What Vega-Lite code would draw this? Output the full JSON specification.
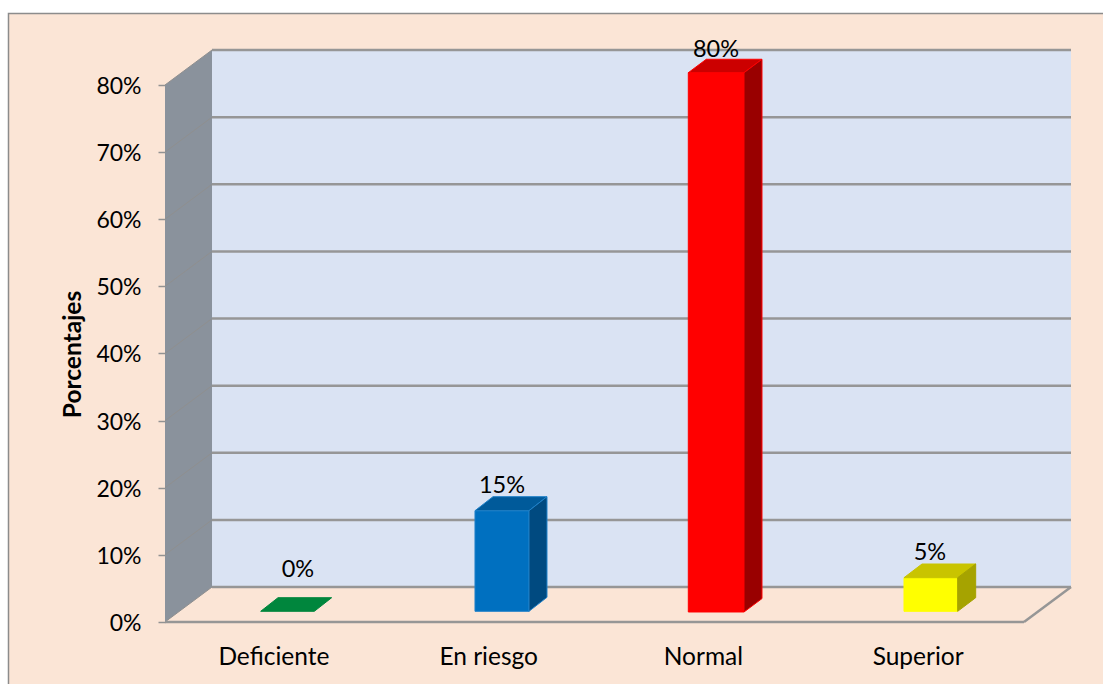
{
"$schema":"https://vega.github.io/schema/vega-lite/v6.json",
"width":906,"height":572,"autosize":"none",
"padding":{"left":165,"top":50,"right":32,"bottom":62},
"background":"#ffffff",
"view":{"stroke":null},
"config":{"font":"Lato"},
"resolve":{"scale":{"fill":"independent","stroke":"independent"}},
"datasets":{
"polys":[
{"part":"fondo","i":0,"x":-0.7288,"y":-9.3},{"part":"fondo","i":1,"x":-0.7288,"y":90.65},{"part":"fondo","i":2,"x":4.4,"y":90.65},{"part":"fondo","i":3,"x":4.4,"y":-9.3},
{"part":"pared","i":0,"x":0.2189,"y":5.21},{"part":"pared","i":1,"x":4.2189,"y":5.21},{"part":"pared","i":2,"x":4.2189,"y":85.21},{"part":"pared","i":3,"x":0.2189,"y":85.21},
{"part":"lateral","i":0,"x":0,"y":0},{"part":"lateral","i":1,"x":0.2189,"y":5.21},{"part":"lateral","i":2,"x":0.2189,"y":85.21},{"part":"lateral","i":3,"x":0,"y":80}
],
"bars":[
{"cat":"Deficiente","face":"g-top","i":0,"x":0.4456,"y":1.594},{"cat":"Deficiente","face":"g-top","i":1,"x":0.6953,"y":1.594},{"cat":"Deficiente","face":"g-top","i":2,"x":0.776,"y":3.62},{"cat":"Deficiente","face":"g-top","i":3,"x":0.5262,"y":3.62},{"cat":"Deficiente","face":"g-top","i":4,"x":0.4456,"y":1.594},
{"cat":"En riesgo","face":"b-front","i":0,"x":1.4435,"y":1.594},{"cat":"En riesgo","face":"b-front","i":1,"x":1.695,"y":1.594},{"cat":"En riesgo","face":"b-front","i":2,"x":1.695,"y":16.58},{"cat":"En riesgo","face":"b-front","i":3,"x":1.4435,"y":16.58},{"cat":"En riesgo","face":"b-front","i":4,"x":1.4435,"y":1.594},
{"cat":"En riesgo","face":"b-top","i":0,"x":1.4435,"y":16.58},{"cat":"En riesgo","face":"b-top","i":1,"x":1.695,"y":16.58},{"cat":"En riesgo","face":"b-top","i":2,"x":1.7788,"y":18.67},{"cat":"En riesgo","face":"b-top","i":3,"x":1.5273,"y":18.67},{"cat":"En riesgo","face":"b-top","i":4,"x":1.4435,"y":16.58},
{"cat":"En riesgo","face":"b-side","i":0,"x":1.695,"y":1.594},{"cat":"En riesgo","face":"b-side","i":1,"x":1.7788,"y":3.68},{"cat":"En riesgo","face":"b-side","i":2,"x":1.7788,"y":18.67},{"cat":"En riesgo","face":"b-side","i":3,"x":1.695,"y":16.58},{"cat":"En riesgo","face":"b-side","i":4,"x":1.695,"y":1.594},
{"cat":"Normal","face":"r-front","i":0,"x":2.4368,"y":1.49},{"cat":"Normal","face":"r-front","i":1,"x":2.6962,"y":1.49},{"cat":"Normal","face":"r-front","i":2,"x":2.6962,"y":81.83},{"cat":"Normal","face":"r-front","i":3,"x":2.4368,"y":81.83},{"cat":"Normal","face":"r-front","i":4,"x":2.4368,"y":1.49},
{"cat":"Normal","face":"r-top","i":0,"x":2.4368,"y":81.83},{"cat":"Normal","face":"r-top","i":1,"x":2.6962,"y":81.83},{"cat":"Normal","face":"r-top","i":2,"x":2.78,"y":83.83},{"cat":"Normal","face":"r-top","i":3,"x":2.5206,"y":83.83},{"cat":"Normal","face":"r-top","i":4,"x":2.4368,"y":81.83},
{"cat":"Normal","face":"r-side","i":0,"x":2.6962,"y":1.49},{"cat":"Normal","face":"r-side","i":1,"x":2.78,"y":3.49},{"cat":"Normal","face":"r-side","i":2,"x":2.78,"y":83.83},{"cat":"Normal","face":"r-side","i":3,"x":2.6962,"y":81.83},{"cat":"Normal","face":"r-side","i":4,"x":2.6962,"y":1.49},
{"cat":"Superior","face":"y-front","i":0,"x":3.4412,"y":1.594},{"cat":"Superior","face":"y-front","i":1,"x":3.6912,"y":1.594},{"cat":"Superior","face":"y-front","i":2,"x":3.6912,"y":6.6},{"cat":"Superior","face":"y-front","i":3,"x":3.4412,"y":6.6},{"cat":"Superior","face":"y-front","i":4,"x":3.4412,"y":1.594},
{"cat":"Superior","face":"y-top","i":0,"x":3.4412,"y":6.6},{"cat":"Superior","face":"y-top","i":1,"x":3.6912,"y":6.6},{"cat":"Superior","face":"y-top","i":2,"x":3.775,"y":8.64},{"cat":"Superior","face":"y-top","i":3,"x":3.525,"y":8.64},{"cat":"Superior","face":"y-top","i":4,"x":3.4412,"y":6.6},
{"cat":"Superior","face":"y-side","i":0,"x":3.6912,"y":1.594},{"cat":"Superior","face":"y-side","i":1,"x":3.775,"y":3.62},{"cat":"Superior","face":"y-side","i":2,"x":3.775,"y":8.64},{"cat":"Superior","face":"y-side","i":3,"x":3.6912,"y":6.6},{"cat":"Superior","face":"y-side","i":4,"x":3.6912,"y":1.594}
],
"backLines":[
{"s":"0","x":0.2189,"y":5.21},{"s":"0","x":4.2189,"y":5.21},
{"s":"10","x":0.2189,"y":15.21},{"s":"10","x":4.2189,"y":15.21},
{"s":"20","x":0.2189,"y":25.21},{"s":"20","x":4.2189,"y":25.21},
{"s":"30","x":0.2189,"y":35.21},{"s":"30","x":4.2189,"y":35.21},
{"s":"40","x":0.2189,"y":45.21},{"s":"40","x":4.2189,"y":45.21},
{"s":"50","x":0.2189,"y":55.21},{"s":"50","x":4.2189,"y":55.21},
{"s":"60","x":0.2189,"y":65.21},{"s":"60","x":4.2189,"y":65.21},
{"s":"70","x":0.2189,"y":75.21},{"s":"70","x":4.2189,"y":75.21},
{"s":"80","x":0.2189,"y":85.21},{"s":"80","x":4.2189,"y":85.21},
{"s":"front","x":4.2189,"y":5.21},{"s":"front","x":4,"y":0},{"s":"front2","x":4,"y":0},{"s":"front2","x":0,"y":0}
],
"sideLines":[
{"s":"0","x":0,"y":0},{"s":"0","x":0.2189,"y":5.21},
{"s":"10","x":0,"y":10},{"s":"10","x":0.2189,"y":15.21},
{"s":"20","x":0,"y":20},{"s":"20","x":0.2189,"y":25.21},
{"s":"30","x":0,"y":30},{"s":"30","x":0.2189,"y":35.21},
{"s":"40","x":0,"y":40},{"s":"40","x":0.2189,"y":45.21},
{"s":"50","x":0,"y":50},{"s":"50","x":0.2189,"y":55.21},
{"s":"60","x":0,"y":60},{"s":"60","x":0.2189,"y":65.21},
{"s":"70","x":0,"y":70},{"s":"70","x":0.2189,"y":75.21},
{"s":"80","x":0,"y":80},{"s":"80","x":0.2189,"y":85.21}
],
"frame":[
{"i":0,"x":-0.7288,"y":-9.3},{"i":1,"x":-0.7288,"y":90.65},{"i":2,"x":4.4,"y":90.65}
],
"labels":[
{"t":"0%","x":0.6190,"y":7.75},
{"t":"15%","x":1.5693,"y":20.25},
{"t":"80%","x":2.5657,"y":85.15},
{"t":"5%","x":3.5622,"y":10.25}
]
},
"layer":[
{"data":{"name":"polys"},
 "mark":{"type":"line","strokeWidth":0},
 "encoding":{
  "x":{"field":"x","type":"quantitative","scale":{"domain":[0,4.2189],"nice":false,"zero":false},
   "axis":{"zindex":1,"title":null,"values":[0.5,1.5,2.5,3.5],"grid":false,"domain":false,"ticks":false,"labelFontSize":24.5,"labelFont":"Lato","labelColor":"#000000","labelPadding":23,"labelOffset":1,"labelFlush":false,"labelOverlap":false,
    "labelExpr":"datum.value==0.5?'Deficiente':datum.value==1.5?'En riesgo':datum.value==2.5?'Normal':'Superior'"}},
  "y":{"field":"y","type":"quantitative","scale":{"domain":[0,85.21],"nice":false,"zero":false},
   "axis":{"zindex":1,"title":"Porcentajes","values":[0,10,20,30,40,50,60,70,80],"grid":false,"domain":false,"ticks":true,"tickSize":7,"tickColor":"#929292","tickWidth":1.5,"labelFontSize":23,"labelFont":"Lato","labelColor":"#000000","labelPadding":17,"labelOffset":1.5,"labelFlush":false,"labelExpr":"datum.value+'%'",
    "titleFontSize":24.5,"titleFont":"Lato","titleFontWeight":"bold","titleColor":"#000000","titlePadding":10,"titleY":304}},
  "order":{"field":"i","type":"ordinal"},
  "detail":{"field":"part"},
  "fill":{"field":"part","type":"nominal","legend":null,"scale":{"domain":["fondo","pared","lateral"],"range":["#FBE5D6","#DAE3F3","#8A929C"]}}
 }},
{"data":{"name":"sideLines"},
 "mark":{"type":"line","strokeWidth":1,"color":"#8F8F8F"},
 "encoding":{"x":{"field":"x","type":"quantitative"},"y":{"field":"y","type":"quantitative"},"detail":{"field":"s"}}},
{"data":{"name":"backLines"},
 "mark":{"type":"line","strokeWidth":2.5,"color":"#969696"},
 "encoding":{"x":{"field":"x","type":"quantitative"},"y":{"field":"y","type":"quantitative"},"detail":{"field":"s"}}},
{"data":{"name":"frame"},
 "mark":{"type":"line","strokeWidth":1.5,"color":"#8C8C8C"},
 "encoding":{"x":{"field":"x","type":"quantitative"},"y":{"field":"y","type":"quantitative"},"order":{"field":"i","type":"ordinal"}}},
{"data":{"name":"bars"},
 "mark":{"type":"line","strokeWidth":1},
 "encoding":{
  "x":{"field":"x","type":"quantitative"},"y":{"field":"y","type":"quantitative"},
  "order":{"field":"i","type":"ordinal"},
  "detail":{"field":"face"},
  "fill":{"field":"face","type":"nominal","legend":null,"scale":{"domain":["g-top","b-front","b-top","b-side","r-front","r-top","r-side","y-front","y-top","y-side"],"range":["#00863D","#0070C0","#005A9A","#004A80","#FF0000","#CC0000","#990000","#FFFF00","#C9C400","#A6A300"]}},
  "stroke":{"field":"face","type":"nominal","legend":null,"scale":{"domain":["g-top","b-front","b-top","b-side","r-front","r-top","r-side","y-front","y-top","y-side"],"range":["#00863D","#1F80C8","#1F80C8","#1F80C8","#FF0000","#FF0000","#FF0000","#FFFF00","#C9C400","#A6A300"]}}
 }},
{"data":{"name":"labels"},
 "mark":{"type":"text","fontSize":23.5,"font":"Lato","color":"#000000","align":"center","baseline":"middle"},
 "encoding":{"x":{"field":"x","type":"quantitative"},"y":{"field":"y","type":"quantitative"},"text":{"field":"t"}}}
]
}
